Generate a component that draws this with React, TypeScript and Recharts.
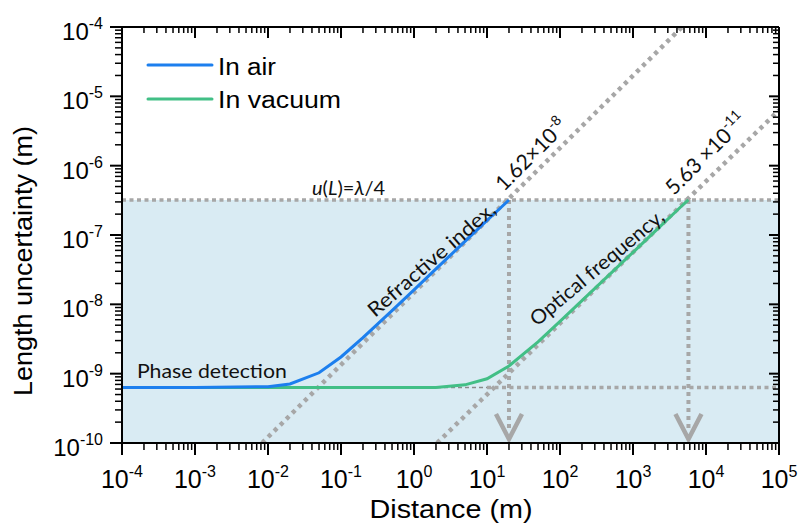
import React from 'react';
import {
    ComposedChart, Line, XAxis, YAxis,
    ReferenceArea, ReferenceLine, ReferenceDot,
} from 'recharts';

// distances (m) and length uncertainty (m)
const AIR_DIST = [1e-4, 1e-3, 1e-2, 2e-2, 5e-2, 0.1, 0.2, 0.5, 1, 2, 5, 10, 20];
const AIR_U    = [6.3e-10, 6.3e-10, 6.5e-10, 7.1e-10, 1.03e-9, 1.74e-9, 3.3e-9, 8.1e-9, 1.62e-8, 3.24e-8, 8.1e-8, 1.62e-7, 3.2e-7];

const VAC_DIST = [1e-4, 1e-3, 1e-2, 0.1, 1, 2, 5, 10, 20, 50, 100, 200, 500, 1000, 2000, 5000, 5750];
const VAC_U    = [6.3e-10, 6.3e-10, 6.3e-10, 6.3e-10, 6.3e-10, 6.3e-10, 6.9e-10, 8.45e-10, 1.29e-9, 2.88e-9, 5.66e-9, 1.13e-8, 2.82e-8, 5.63e-8, 1.13e-7, 2.82e-7, 3.2e-7];

const LAMBDA_QUARTER = 3.2e-7;
const PHASE_FLOOR    = 6.3e-10;
const AIR_END        = 20;
const VAC_END        = 5750;

const X_DECADES = [-4, -3, -2, -1, 0, 1, 2, 3, 4, 5];
const Y_DECADES = [-10, -9, -8, -7, -6, -5, -4];
const MINOR     = [2, 3, 4, 5, 6, 7, 8, 9];

const withMinor = (decades: number[]) => {
    const out: number[] = [];
    decades.forEach((e, i) => {
        out.push(Number(Math.pow(10, e).toPrecision(6)));
        if (i < decades.length - 1) {
            MINOR.forEach(m => out.push(Number((m * Math.pow(10, e)).toPrecision(6))));
        }
    });
    return out;
};
const X_TICKS = withMinor(X_DECADES);
const Y_TICKS = withMinor(Y_DECADES);

const BLUE  = '#1c7fee';
const GREEN = '#42bf86';
const GRAY  = '#a7a7a7';
const SHADE = '#d9ebf3';
const SANS  = '"Liberation Sans", Arial, sans-serif';
const NOTE  = 'Lato, "Open Sans", sans-serif';

const air = AIR_DIST.map((d, i) => ({ d, u: AIR_U[i] }));
const vac = VAC_DIST.map((d, i) => ({ d, u: VAC_U[i] }));

const isMajor = (v: number) => Math.abs(Math.log10(v) - Math.round(Math.log10(v))) < 1e-6;
const expOf = (v: number) => Math.round(Math.log10(v));

const BottomTick = ({ x, y, payload }: any) => {
    const major = isMajor(payload.value);
    return (
        <g>
            <line x1={x} y1={y} x2={x} y2={y + (major ? 12 : 7)} stroke="#000" strokeWidth={major ? 2 : 1.5} />
            {major && (
                <text x={x} y={y + 45} textAnchor="middle" fontFamily={SANS} fontSize={25} fill="#000">
                    10<tspan dy={-11} fontSize={16}>{expOf(payload.value)}</tspan>
                </text>
            )}
        </g>
    );
};

const TopTick = ({ x, y, payload }: any) => {
    const major = isMajor(payload.value);
    return <line x1={x} y1={y} x2={x} y2={y + (major ? 11 : 6)} stroke="#000" strokeWidth={major ? 2 : 1.5} />;
};

const LeftTick = ({ x, y, payload }: any) => {
    const major = isMajor(payload.value);
    return (
        <g>
            <line x1={x} y1={y} x2={x - (major ? 12 : 7)} y2={y} stroke="#000" strokeWidth={major ? 2 : 1.5} />
            {major && (
                <text x={x - 19} y={y + 13} textAnchor="end" fontFamily={SANS} fontSize={24} fill="#000">
                    10<tspan dy={-11} fontSize={16}>{expOf(payload.value)}</tspan>
                </text>
            )}
        </g>
    );
};

const RightTick = ({ x, y, payload }: any) => {
    const major = isMajor(payload.value);
    return <line x1={x} y1={y} x2={x - (major ? 10 : 6)} y2={y} stroke="#000" strokeWidth={major ? 2 : 1.5} />;
};

const ArrowDown = (p: any) => (
    <g>
        <line x1={p.x1} y1={p.y1} x2={p.x2} y2={p.y2 - 10} stroke={GRAY} strokeWidth={4} strokeDasharray="4 4" />
        <polyline points={`${p.x2 - 13},${p.y2 - 25} ${p.x2},${p.y2} ${p.x2 + 13},${p.y2 - 25}`}
                  fill="none" stroke={GRAY} strokeWidth={4.5} />
    </g>
);

const note = (angle: number, children: React.ReactNode, size: number, textLength?: number) => (p: any) => (
    <text x={p.cx} y={p.cy} transform={`rotate(${angle} ${p.cx} ${p.cy})`}
          fontFamily={NOTE} fontSize={size} fill="#111"
          textLength={textLength} lengthAdjust={textLength ? 'spacingAndGlyphs' : undefined}>
        {children}
    </text>
);

const axisLine = { stroke: '#000', strokeWidth: 2 };

export default function App() {
    return (
        <div style={{ position: 'absolute', left: 0, top: 0, background: '#fff' }}>
            <ComposedChart width={799} height={526} margin={{ top: 26, right: 19, bottom: 0, left: 0 }}>
                <ReferenceArea xAxisId="b" yAxisId="l" x1={1e-4} x2={1e5} y1={1e-10} y2={LAMBDA_QUARTER}
                               fill={SHADE} fillOpacity={1} stroke="none" ifOverflow="hidden" />
                <XAxis xAxisId="b" type="number" dataKey="d" scale="log" domain={[1e-4, 1e5]} allowDataOverflow
                       ticks={X_TICKS} interval={0} height={83} tickSize={0} tickMargin={0} tickLine={false}
                       axisLine={axisLine} tick={<BottomTick />} />
                <XAxis xAxisId="t" orientation="top" type="number" dataKey="d" scale="log" domain={[1e-4, 1e5]}
                       allowDataOverflow ticks={X_TICKS} interval={0} height={1} tickSize={0} tickMargin={0}
                       tickLine={false} axisLine={axisLine} tick={<TopTick />} />
                <YAxis yAxisId="l" type="number" dataKey="u" scale="log" domain={[1e-10, 1e-4]} allowDataOverflow
                       ticks={Y_TICKS} interval={0} width={122} tickSize={0} tickMargin={0} tickLine={false}
                       axisLine={axisLine} tick={<LeftTick />} />
                <YAxis yAxisId="r" orientation="right" type="number" dataKey="u" scale="log" domain={[1e-10, 1e-4]}
                       allowDataOverflow ticks={Y_TICKS} interval={0} width={1} tickSize={0} tickMargin={0}
                       tickLine={false} axisLine={axisLine} tick={<RightTick />} />

                <ReferenceLine xAxisId="b" yAxisId="l" ifOverflow="hidden"
                               segment={[{ x: 1e-4, y: LAMBDA_QUARTER }, { x: 1e5, y: LAMBDA_QUARTER }]}
                               stroke={GRAY} strokeWidth={3.5} strokeDasharray="4 3.5" />
                <ReferenceLine xAxisId="b" yAxisId="l" ifOverflow="hidden"
                               segment={[{ x: 1e-4, y: PHASE_FLOOR }, { x: 10, y: PHASE_FLOOR }]}
                               stroke="#8a8a8a" strokeWidth={1.5} strokeDasharray="4 3" />
                <ReferenceLine xAxisId="b" yAxisId="l" ifOverflow="hidden"
                               segment={[{ x: 10, y: PHASE_FLOOR }, { x: 1e5, y: PHASE_FLOOR }]}
                               stroke={GRAY} strokeWidth={3.5} strokeDasharray="4 3.5" />
                <ReferenceLine xAxisId="b" yAxisId="l" ifOverflow="hidden"
                               segment={[{ x: 8.3e-3, y: 1e-10 }, { x: 4.7e3, y: 1e-4 }]}
                               stroke={GRAY} strokeWidth={4.5} strokeDasharray="4 4.5" />
                <ReferenceLine xAxisId="b" yAxisId="l" ifOverflow="hidden"
                               segment={[{ x: 2.07, y: 1e-10 }, { x: 1e5, y: 6.3e-6 }]}
                               stroke={GRAY} strokeWidth={4.5} strokeDasharray="4 4.5" />
                <ReferenceLine xAxisId="b" yAxisId="l" ifOverflow="hidden"
                               segment={[{ x: AIR_END, y: LAMBDA_QUARTER }, { x: AIR_END, y: 1.14e-10 }]}
                               shape={ArrowDown} />
                <ReferenceLine xAxisId="b" yAxisId="l" ifOverflow="hidden"
                               segment={[{ x: VAC_END, y: LAMBDA_QUARTER }, { x: VAC_END, y: 1.14e-10 }]}
                               shape={ArrowDown} />

                <Line xAxisId="b" yAxisId="l" data={vac} dataKey="u" type="linear" stroke={GREEN}
                      strokeWidth={3} dot={false} isAnimationActive={false} />
                <Line xAxisId="b" yAxisId="l" data={air} dataKey="u" type="linear" stroke={BLUE}
                      strokeWidth={3} dot={false} isAnimationActive={false} />

                <ReferenceDot xAxisId="b" yAxisId="l" x={1.6e-4} y={8.65e-10} r={0}
                              shape={note(0, 'Phase detection', 20, 150)} />
                <ReferenceDot xAxisId="b" yAxisId="l" x={0.0401} y={3.78e-7} r={0}
                              shape={note(0, <><tspan fontStyle="italic">u</tspan>(<tspan fontStyle="italic">L</tspan>)=<tspan fontStyle="italic">λ</tspan>/4</>, 20)} />
                <ReferenceDot xAxisId="b" yAxisId="l" x={0.292} y={6.35e-9} r={0}
                              shape={note(-41, 'Refractive index,', 20, 162)} />
                <ReferenceDot xAxisId="b" yAxisId="l" x={17.1} y={4.17e-7} r={0}
                              shape={note(-45, <>1.62×10<tspan dy={-9} fontSize={14}>-8</tspan></>, 21)} />
                <ReferenceDot xAxisId="b" yAxisId="l" x={48.4} y={4.71e-9} r={0}
                              shape={note(-40, 'Optical frequency,', 20, 168)} />
                <ReferenceDot xAxisId="b" yAxisId="l" x={3650} y={3.65e-7} r={0}
                              shape={note(-45, <>5.63 ×10<tspan dy={-9} fontSize={14}>-11</tspan></>, 21)} />

                {/* legend */}
                <g>
                    <line x1={148} y1={65} x2={212} y2={65} stroke={BLUE} strokeWidth={3} strokeLinecap="round" />
                    <text x={218} y={75} fontFamily={SANS} fontSize={23} fill="#000" textLength={58}
                          lengthAdjust="spacingAndGlyphs">In air</text>
                    <line x1={148} y1={99} x2={212} y2={99} stroke={GREEN} strokeWidth={3} strokeLinecap="round" />
                    <text x={218} y={108} fontFamily={SANS} fontSize={23} fill="#000" textLength={123}
                          lengthAdjust="spacingAndGlyphs">In vacuum</text>
                </g>

                {/* axis titles */}
                <text x={451} y={518} textAnchor="middle" fontFamily={SANS} fontSize={25} fill="#000"
                      textLength={163} lengthAdjust="spacingAndGlyphs">Distance (m)</text>
                <text x={32} y={261} transform="rotate(-90 32 261)" textAnchor="middle" fontFamily={SANS}
                      fontSize={25} fill="#000" textLength={270} lengthAdjust="spacingAndGlyphs">
                    Length uncertainty (m)
                </text>
            </ComposedChart>
        </div>
    );
}
